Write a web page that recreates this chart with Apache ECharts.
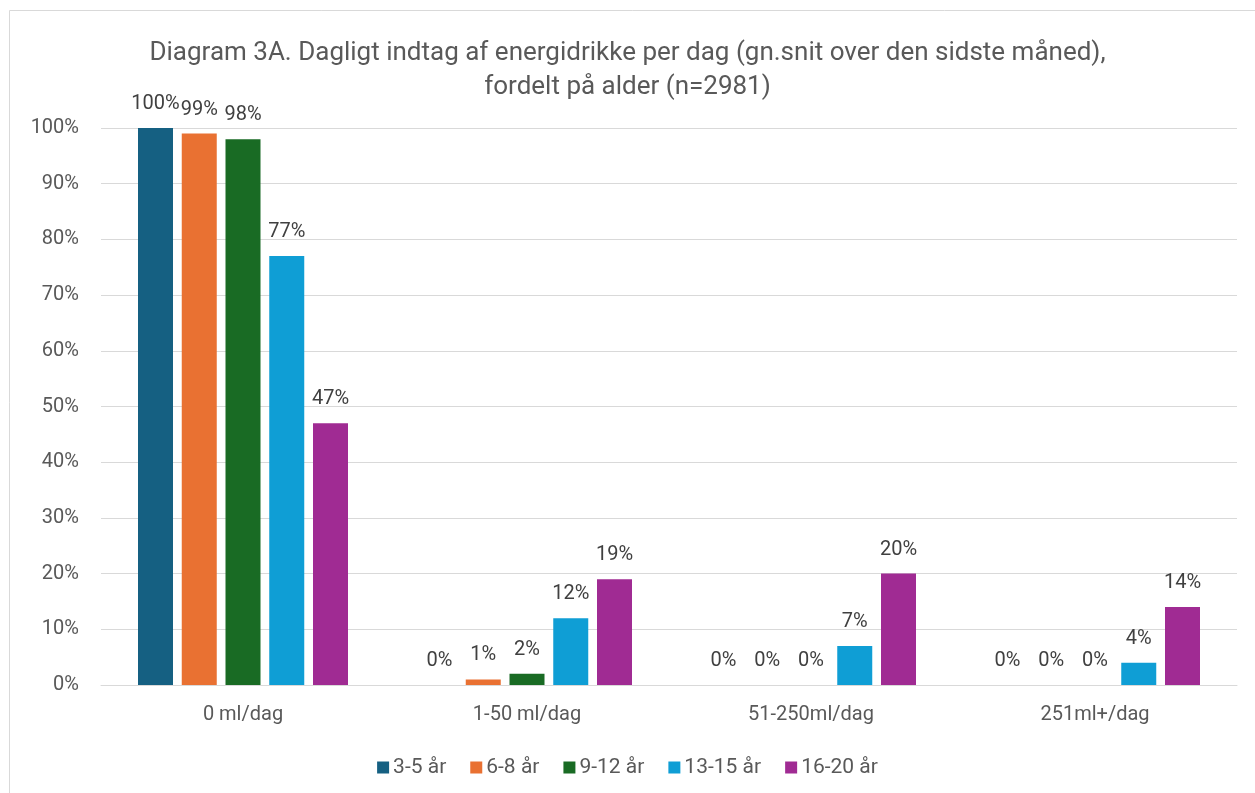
<!DOCTYPE html>
<html lang="da">
<head>
<meta charset="UTF-8">
<title>Diagram 3A</title>
<script src="https://cdn.jsdelivr.net/npm/echarts@6/dist/echarts.min.js"></script>
<style>
  html, body { margin: 0; padding: 0; background: #fff; }
  #chart { width: 1255px; height: 793px; }
</style>
</head>
<body>
<div id="chart"></div>
<script>
// kategorier og aldersgrupper
var categories = ['0 ml/dag', '1-50 ml/dag', '51-250ml/dag', '251ml+/dag'];
var ageGroups = ['3-5 år', '6-8 år', '9-12 år', '13-15 år', '16-20 år'];
var colors = ['#156082', '#E97132', '#196B24', '#0F9ED5', '#A02B93'];

// andel i procent pr. aldersgruppe
var age3to5 = [100, 0, 0, 0];
var age6to8 = [99, 1, 0, 0];
var age9to12 = [98, 2, 0, 0];
var age13to15 = [77, 12, 7, 4];
var age16to20 = [47, 19, 20, 14];

var values = [age3to5, age6to8, age9to12, age13to15, age16to20];
var font = 'Roboto, sans-serif';

var chart = echarts.init(document.getElementById('chart'));

var series = ageGroups.map(function (name, i) {
    return {
        name: name,
        type: 'bar',
        barWidth: 35,
        barGap: '25%',
        itemStyle: { color: colors[i] },
        label: {
            show: true,
            position: 'top',
            distance: 14,
            formatter: '{c}%',
            color: '#404040',
            fontSize: 20,
            fontFamily: font
        },
        data: values[i]
    };
});

chart.setOption({
    backgroundColor: '#fff',
    animation: false,
    title: {
        text: 'Diagram 3A. Dagligt indtag af energidrikke per dag (gn.snit over den sidste måned),\nfordelt på alder (n=2981)',
        left: 'center',
        top: 31,
        textStyle: {
            color: '#595959',
            fontSize: 26,
            fontWeight: 'normal',
            fontFamily: font,
            lineHeight: 34
        }
    },
    graphic: [{
        type: 'rect',
        shape: { x: 9.5, y: 10.5, width: 1260, height: 800 },
        style: { fill: 'none', stroke: '#d9d9d9', lineWidth: 1 },
        silent: true,
        z: -1
    }],
    legend: {
        data: ageGroups,
        top: 752,
        left: 'center',
        itemWidth: 12,
        itemHeight: 12,
        itemGap: 24,
        icon: 'rect',
        textStyle: { color: '#595959', fontSize: 21, fontFamily: font, padding: [0, 0, 0, -1] }
    },
    grid: { left: 101, right: 18, top: 128, bottom: 108 },
    xAxis: {
        type: 'category',
        data: categories,
        axisTick: { show: false },
        axisLine: { lineStyle: { color: '#d9d9d9' } },
        axisLabel: { color: '#595959', fontSize: 20, fontFamily: font, margin: 20 }
    },
    yAxis: {
        type: 'value',
        min: 0,
        max: 100,
        interval: 10,
        axisLine: { show: false },
        axisTick: { show: false },
        splitLine: { lineStyle: { color: '#d9d9d9', width: 1 } },
        axisLabel: { formatter: '{value}%', color: '#595959', fontSize: 20, fontFamily: font, margin: 22 }
    },
    series: series
});
</script>
</body>
</html>
